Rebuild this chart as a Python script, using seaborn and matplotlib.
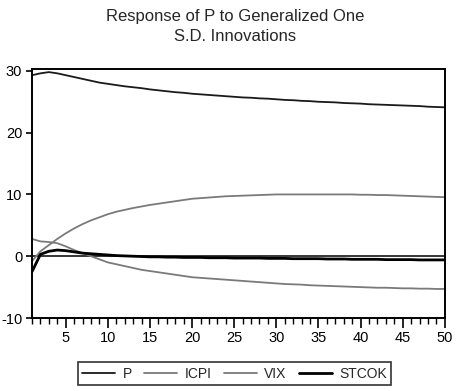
import numpy as np
import pandas as pd
import matplotlib
matplotlib.use("Agg")
import matplotlib.pyplot as plt
from matplotlib.ticker import MultipleLocator
import seaborn as sns

periods = list(range(1, 51))

p_vals = [29.3, 29.6, 29.8, 29.6, 29.3, 29.0, 28.7, 28.4, 28.1, 27.9,
          27.7, 27.5, 27.35, 27.2, 27.0, 26.85, 26.7, 26.55, 26.45, 26.3,
          26.2, 26.1, 26.0, 25.9, 25.8, 25.7, 25.65, 25.55, 25.5, 25.4,
          25.3, 25.25, 25.15, 25.1, 25.0, 24.95, 24.9, 24.8, 24.75, 24.7,
          24.6, 24.55, 24.5, 24.45, 24.4, 24.35, 24.3, 24.2, 24.15, 24.1]

icpi_vals = [-0.8, 0.8, 1.8, 2.8, 3.7, 4.5, 5.2, 5.8, 6.3, 6.8,
             7.2, 7.5, 7.8, 8.05, 8.3, 8.5, 8.7, 8.9, 9.1, 9.3,
             9.4, 9.5, 9.6, 9.7, 9.75, 9.8, 9.85, 9.9, 9.95, 10.0,
             10.0, 10.0, 10.0, 10.0, 10.0, 10.0, 10.0, 10.0, 10.0, 9.95,
             9.95, 9.9, 9.9, 9.85, 9.8, 9.75, 9.7, 9.65, 9.6, 9.55]

vix_vals = [2.8, 2.4, 2.3, 2.1, 1.6, 1.0, 0.5, 0.0, -0.5, -1.0,
            -1.3, -1.6, -1.9, -2.2, -2.4, -2.6, -2.8, -3.0, -3.2, -3.4,
            -3.5, -3.6, -3.7, -3.8, -3.9, -4.0, -4.1, -4.2, -4.3, -4.4,
            -4.5, -4.55, -4.6, -4.7, -4.75, -4.8, -4.85, -4.9, -4.95, -5.0,
            -5.05, -5.1, -5.1, -5.15, -5.2, -5.2, -5.25, -5.25, -5.3, -5.3]

stcok_vals = [-2.5, 0.3, 0.8, 1.0, 0.9, 0.7, 0.5, 0.4, 0.3, 0.2,
              0.1, 0.05, 0.0, -0.05, -0.1, -0.1, -0.15, -0.15, -0.2, -0.2,
              -0.2, -0.25, -0.25, -0.25, -0.3, -0.3, -0.3, -0.3, -0.35, -0.35,
              -0.35, -0.4, -0.4, -0.4, -0.4, -0.45, -0.45, -0.45, -0.5, -0.5,
              -0.5, -0.5, -0.55, -0.55, -0.55, -0.55, -0.6, -0.6, -0.6, -0.6]

series_names = ["P", "ICPI", "VIX", "STCOK"]
colors = {"P": "#1a1a1a", "ICPI": "#7a7a7a", "VIX": "#7a7a7a", "STCOK": "#000000"}
widths = {"P": 1.3, "ICPI": 1.3, "VIX": 1.3, "STCOK": 2.0}

df = pd.DataFrame({"period": periods, "P": p_vals, "ICPI": icpi_vals,
                   "VIX": vix_vals, "STCOK": stcok_vals})

sns.set_style("white")
plt.rcParams["font.family"] = ["Liberation Sans", "DejaVu Sans"]
plt.rcParams["axes.unicode_minus"] = False
plt.rcParams["xtick.bottom"] = True
plt.rcParams["ytick.left"] = True
plt.rcParams["xtick.color"] = "black"
plt.rcParams["ytick.color"] = "black"
plt.rcParams["xtick.minor.size"] = 4
plt.rcParams["xtick.minor.width"] = 1.0
plt.rcParams["xtick.major.size"] = 7
plt.rcParams["xtick.major.width"] = 1.2
plt.rcParams["ytick.major.size"] = 4
plt.rcParams["ytick.major.width"] = 1.2

fig = plt.figure(figsize=(4.6, 3.91), dpi=100)
ax = fig.add_axes([0.0696, 0.1867, 0.8974, 0.6368])

ax.axhline(0, color="black", lw=1.1, zorder=1)
for name in series_names:
    sns.lineplot(data=df, x="period", y=name, ax=ax, color=colors[name],
                 lw=widths[name], label=name, legend=False, zorder=2)

ax.set_xlim(1, 50)
ax.set_ylim(-10, 30.3)
ax.xaxis.set_major_locator(MultipleLocator(5))
ax.xaxis.set_minor_locator(MultipleLocator(1))
ax.set_yticks([-10, 0, 10, 20, 30])
ax.tick_params(axis="both", which="major", direction="out",
               labelsize=10.5, labelcolor="black", pad=2)
ax.tick_params(axis="y", which="major", pad=3)
ax.tick_params(axis="x", which="minor", direction="out", bottom=True,
               length=4, width=1.0, color="black")
ax.set_xlabel("")
ax.set_ylabel("")
for s in ax.spines.values():
    s.set_color("black")
    s.set_linewidth(1.4)

fig.text(0.511, 0.978, "Response of P to Generalized One\nS.D. Innovations",
         ha="center", va="top", fontsize=12, linespacing=1.45)

handles = [plt.Line2D([0], [0], color=colors[n], lw=widths[n]) for n in series_names]
leg = fig.legend(handles, series_names, loc="center", bbox_to_anchor=(0.51, 0.0445),
                 ncol=4, frameon=True, fancybox=False, fontsize=10,
                 handlelength=2.4, handletextpad=0.5, columnspacing=0.9,
                 borderpad=0.3, edgecolor="black")
leg.get_frame().set_linewidth(1.2)

fig.savefig("out.png", dpi=100)
